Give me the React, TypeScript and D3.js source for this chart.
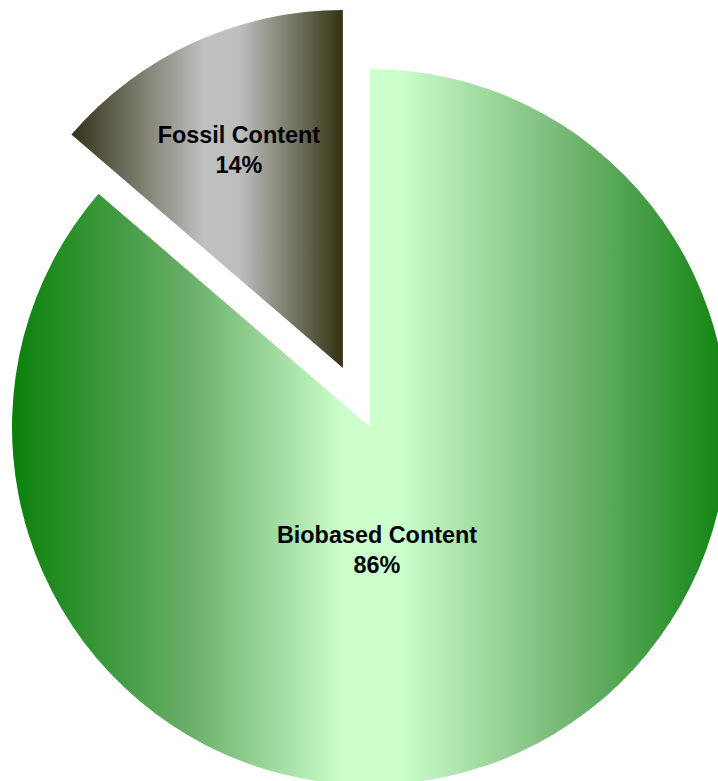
import React from 'react';
import * as d3 from 'd3';

const categories = ['Biobased Content', 'Fossil Content'];
const values = [86.3, 13.7];
const valueLabels = ['86%', '14%'];
const explode = [0, 65];
const labelAngleDeg: (number | null)[] = [176.8, 334.3];
const labelRadiusFrac = [0.35, 0.67];
const gradientStops = [
  [
    { o: 0, c: '#0a800a' },
    { o: 0.25, c: '#6aaf6a' },
    { o: 0.465, c: '#ccffcc' },
    { o: 0.54, c: '#ccffcc' },
    { o: 0.77, c: '#76b876' },
    { o: 1, c: '#0f830f' },
  ],
  [
    { o: 0, c: '#333318' },
    { o: 0.49, c: '#c0c0c0' },
    { o: 0.62, c: '#bebebe' },
    { o: 1, c: '#333311' },
  ],
];

const W = 718;
const H = 781;
const cx = 370;
const cy = 427;
const R = 358;

export default function App() {
  const pie = d3
    .pie<number>()
    .sort(null)
    .startAngle(0)
    .endAngle(2 * Math.PI)
    .value((d) => d);
  const arcs = pie(values);
  const arc = d3.arc<d3.PieArcDatum<number>>().innerRadius(0).outerRadius(R);

  return (
    <svg
      width={W}
      height={H}
      style={{ position: 'absolute', left: 0, top: 0, display: 'block' }}
    >
      <defs>
        {gradientStops.map((stops, i) => (
          <linearGradient key={i} id={`grad${i}`} x1="0" x2="1" y1="0" y2="0">
            {stops.map((s, j) => (
              <stop key={j} offset={s.o} stopColor={s.c} />
            ))}
          </linearGradient>
        ))}
      </defs>
      {arcs.map((a, i) => {
        const mid = (a.startAngle + a.endAngle) / 2;
        const ox = Math.sin(mid) * explode[i];
        const oy = -Math.cos(mid) * explode[i];
        return (
          <g key={categories[i]} transform={`translate(${cx + ox},${cy + oy})`}>
            <path d={arc(a) || ''} fill={`url(#grad${i})`} />
          </g>
        );
      })}
      {arcs.map((a, i) => {
        const mid = (a.startAngle + a.endAngle) / 2;
        const ox = Math.sin(mid) * explode[i];
        const oy = -Math.cos(mid) * explode[i];
        const la = labelAngleDeg[i] != null ? ((labelAngleDeg[i] as number) * Math.PI) / 180 : mid;
        const lr = labelRadiusFrac[i] * R;
        const lx = cx + ox + Math.sin(la) * lr;
        const ly = cy + oy - Math.cos(la) * lr;
        return (
          <text
            key={`l${i}`}
            x={lx}
            y={ly}
            textAnchor="middle"
            fontFamily="'Liberation Sans', Arial, sans-serif"
            fontWeight="bold"
            fontSize={23.4}
            fill="#000"
          >
            <tspan x={lx} dy={-9}>
              {categories[i]}
            </tspan>
            <tspan x={lx} dy={30}>
              {valueLabels[i]}
            </tspan>
          </text>
        );
      })}
    </svg>
  );
}
